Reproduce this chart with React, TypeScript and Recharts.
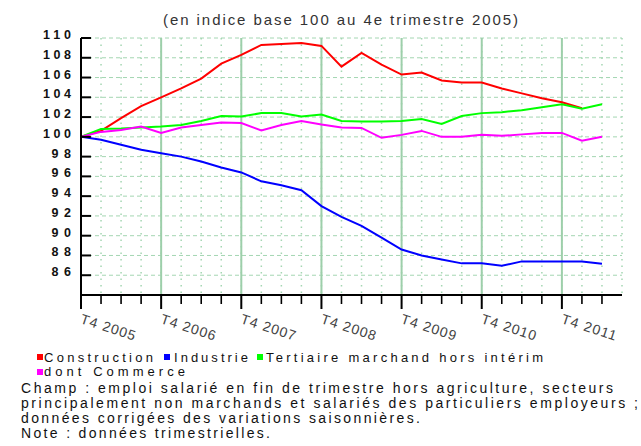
import React from 'react';
import { LineChart, Line, XAxis, YAxis, CartesianGrid, ReferenceLine } from 'recharts';

const quarters = [
  'T4 2005', 'T1 2006', 'T2 2006', 'T3 2006', 'T4 2006', 'T1 2007', 'T2 2007', 'T3 2007',
  'T4 2007', 'T1 2008', 'T2 2008', 'T3 2008', 'T4 2008', 'T1 2009', 'T2 2009', 'T3 2009',
  'T4 2009', 'T1 2010', 'T2 2010', 'T3 2010', 'T4 2010', 'T1 2011', 'T2 2011', 'T3 2011',
  'T4 2011', 'T1 2012', 'T2 2012',
];

const construction: (number | null)[] = [
  100, 100.6, 101.9, 103.1, 104.0, 104.9, 105.9, 107.4, 108.3, 109.3, 109.4, 109.5, 109.2,
  107.1, 108.5, 107.3, 106.3, 106.5, 105.7, 105.5, 105.5, 104.9, 104.4, 103.9, 103.5, 102.9, null,
];
const industrie = [
  100, 99.7, 99.2, 98.7, 98.35, 98.0, 97.5, 96.9, 96.4, 95.5, 95.1, 94.6, 93.0,
  91.9, 91.0, 89.8, 88.6, 88.0, 87.6, 87.2, 87.2, 86.95, 87.4, 87.4, 87.4, 87.4, 87.15,
];
const tertiaire = [
  100, 100.8, 100.85, 100.95, 101.05, 101.2, 101.6, 102.1, 102.05, 102.4, 102.4, 102.05, 102.25,
  101.6, 101.55, 101.55, 101.6, 101.8, 101.3, 102.1, 102.4, 102.5, 102.7, 103.0, 103.3, 102.85, 103.3,
];
const commerce = [
  100, 100.5, 100.7, 101.05, 100.4, 100.95, 101.2, 101.45, 101.4, 100.65, 101.2, 101.6, 101.25,
  100.95, 100.9, 99.9, 100.2, 100.6, 100.0, 100.0, 100.2, 100.1, 100.25, 100.4, 100.4, 99.6, 100.0,
];

const yTicks = [84, 86, 88, 90, 92, 94, 96, 98, 100, 102, 104, 106, 108, 110];
const xTicks = Array.from({ length: 28 }, (_, i) => i);
const yearTicks = [4, 8, 12, 16, 20, 24];

const series = [
  { key: 'construction', name: 'Construction', color: '#ff0000' },
  { key: 'industrie', name: 'Industrie', color: '#0000ff' },
  { key: 'tertiaire', name: 'Tertiaire marchand hors intérim', color: '#00ff00' },
  { key: 'commerce', name: 'dont Commerce', color: '#ff00ff' },
];

const data = quarters.map((q, i) => ({
  i,
  q,
  construction: construction[i],
  industrie: industrie[i],
  tertiaire: tertiaire[i],
  commerce: commerce[i],
}));

const FONT = '"Liberation Sans", Arial, Helvetica, sans-serif';
const GRID = '#a4d6b2';

const YTick = (props: any) => {
  const { x, y, payload } = props;
  if (payload.value === 84) return <g />;
  const v = payload.value;
  return (
    <g>
      <line x1={x} x2={x + 10} y1={y} y2={y} stroke="#000" strokeWidth={2} />
      <text
        x={x - 10}
        y={y + 1}
        textAnchor="end"
        fontFamily={FONT}
        fontWeight="bold"
        fontSize={12.5}
        fill="#111"
        textLength={v >= 100 ? 28 : 19.5}
        lengthAdjust="spacing"
      >
        {v}
      </text>
    </g>
  );
};

const XTick = (props: any) => {
  const { x, y, payload } = props;
  const i = payload.value;
  if (i > 26) return <g />;
  const major = i % 4 === 0;
  const tx = x - 1.5;
  const ty = y + 28;
  return (
    <g>
      <line x1={x} x2={x} y1={y} y2={y + (major ? 14 : 9)} stroke="#000" strokeWidth={major ? 2 : 1.6} />
      {major && (
        <g transform={`translate(${tx} ${ty}) rotate(18)`}>
          <text
            x={0}
            y={0}
            fontFamily={FONT}
            fontSize={14}
            fill="#444"
            textLength={57}
            lengthAdjust="spacing"
          >
            {quarters[i]}
          </text>
        </g>
      )}
    </g>
  );
};

const legendRow1 = [
  { s: series[0], sq: 37, tx: 44, end: 153 },
  { s: series[1], sq: 164, tx: 174, end: 248 },
  { s: series[2], sq: 257, tx: 266, end: 543 },
];

const notes = [
  { t: 'Champ : emploi salarié en fin de trimestre hors agriculture, secteurs', y: 393, end: 613 },
  { t: 'principalement non marchands et salariés des particuliers employeurs ;', y: 408, end: 638 },
  { t: 'données corrigées des variations saisonnières.', y: 423, end: 420 },
  { t: 'Note : données trimestrielles.', y: 438, end: 270 },
];

export default function App() {
  return (
    <div style={{ position: 'absolute', left: 0, top: 0, width: 641, height: 446, background: '#fff', overflow: 'hidden' }}>
      <div style={{ position: 'absolute', left: 0, top: 0 }}>
        <LineChart width={641} height={350} data={data} margin={{ top: 38, right: 19, bottom: 0, left: 0 }}>
          <CartesianGrid vertical={false} stroke={GRID} strokeDasharray="4 3" />
          <CartesianGrid horizontal={false} stroke={GRID} strokeDasharray="1.5 5" strokeWidth={1.5} />
          {yearTicks.map((t) => (
            <ReferenceLine key={t} x={t} stroke="#9dcfaa" strokeWidth={2} />
          ))}
          <XAxis
            dataKey="i"
            type="number"
            domain={[0, 27]}
            ticks={xTicks}
            interval={0}
            height={55}
            tickSize={0}
            tickMargin={0}
            tickLine={false}
            axisLine={{ stroke: '#000', strokeWidth: 2 }}
            tick={<XTick />}
            allowDataOverflow
          />
          <YAxis
            type="number"
            domain={[84, 110]}
            ticks={yTicks}
            interval={0}
            width={81}
            tickSize={0}
            tickMargin={0}
            tickLine={false}
            axisLine={{ stroke: '#000', strokeWidth: 2 }}
            tick={<YTick />}
            allowDataOverflow
          />
          {series.map((s) => (
            <Line
              key={s.key}
              dataKey={s.key}
              name={s.name}
              stroke={s.color}
              strokeWidth={2}
              dot={false}
              type="linear"
              isAnimationActive={false}
              connectNulls={false}
            />
          ))}
        </LineChart>
      </div>
      <svg width={641} height={446} style={{ position: 'absolute', left: 0, top: 0, pointerEvents: 'none' }}>
        <text x={163} y={25} fontFamily={FONT} fontSize={15} fill="#333" textLength={355} lengthAdjust="spacing">
          (en indice base 100 au 4e trimestre 2005)
        </text>
        {legendRow1.map((l) => (
          <g key={l.s.key}>
            <rect x={l.sq} y={354} width={6} height={6} fill={l.s.color} />
            <text x={l.tx} y={362} fontFamily={FONT} fontSize={13} fill="#111" textLength={l.end - l.tx} lengthAdjust="spacing">
              {l.s.name}
            </text>
          </g>
        ))}
        <rect x={37} y={369} width={6} height={6} fill={series[3].color} />
        <text x={44} y={376} fontFamily={FONT} fontSize={13} fill="#111" textLength={185 - 44} lengthAdjust="spacing">
          {series[3].name}
        </text>
        {notes.map((n) => (
          <text key={n.t} x={21} y={n.y} fontFamily={FONT} fontSize={14} fill="#111" textLength={n.end - 21} lengthAdjust="spacing">
            {n.t}
          </text>
        ))}
      </svg>
    </div>
  );
}
